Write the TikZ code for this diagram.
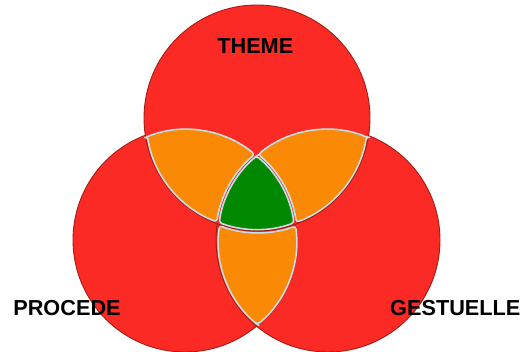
\documentclass[tikz,border=0pt]{standalone}
\usepackage{fontspec}
\setmainfont{Liberation Sans}
\definecolor{vred}{RGB}{252,42,36}
\definecolor{vredline}{RGB}{165,28,20}
\definecolor{vorange}{RGB}{250,137,5}
\definecolor{vgreen}{RGB}{0,137,0}
\definecolor{vborder}{RGB}{200,222,228}
\begin{document}
\begin{tikzpicture}[x=1pt,y=1pt,
  circ/.style={circle,fill=vred,draw=vredline,line width=0.9pt,inner sep=0pt,outer sep=0pt,minimum size=#1},
  piece/.style={draw=vborder,line width=1.6pt,line join=round,rounded corners=3pt},
  pshadow/.style={fill=black,opacity=0.14,rounded corners=3pt},
  lbl/.style={font=\fontsize{21.7}{26}\selectfont\bfseries,inner sep=0pt},
  pTL/.style={insert path={(145.3,216.7) arc[start angle=110.77,end angle=50.32,radius=112]
     arc[start angle=129.68,end angle=171.63,radius=112]
     arc[start angle=249.36,end angle=188.80,radius=113] -- cycle}},
  pTR/.style={insert path={(368.6,216.4) arc[start angle=68.75,end angle=129.68,radius=112]
     arc[start angle=50.32,end angle=8.16,radius=112]
     arc[start angle=290.14,end angle=351.04,radius=113] -- cycle}},
  pB/.style={insert path={(256.5,25.8) arc[start angle=229.68,end angle=171.63,radius=112]
     arc[start angle=249.36,end angle=290.14,radius=113]
     arc[start angle=8.16,end angle=-50.32,radius=112] -- cycle}},
  pG/.style={insert path={(256.5,198.2) arc[start angle=129.68,end angle=171.63,radius=112]
     arc[start angle=249.36,end angle=290.14,radius=113]
     arc[start angle=8.16,end angle=50.32,radius=112] -- cycle}}
]
\useasboundingbox (0,0) rectangle (526,352);
\node[circ=224pt] (circL) at (185,112) {};
\node[circ=224pt] (circR) at (328,112) {};
\node[circ=226pt] (circT) at (257,234) {};
% top-left piece
\begin{scope}[shift={(206,181)},scale=0.965,shift={(-206,-181)}]
  \path[pshadow,shift={(0.8,-1.6)},pTL];
  \path[piece,fill=vorange,pTL];
\end{scope}
% top-right piece
\begin{scope}[shift={(307,181)},scale=0.965,shift={(-307,-181)}]
  \path[pshadow,shift={(0.8,-1.6)},pTR];
  \path[piece,fill=vorange,pTR];
\end{scope}
% bottom piece
\begin{scope}[shift={(256.5,94)},scale=0.965,shift={(-256.5,-94)}]
  \path[pshadow,shift={(0.8,-1.6)},pB];
  \path[piece,fill=vorange,pB];
\end{scope}
% centre piece
\begin{scope}[shift={(256.5,151.5)},scale=0.95,shift={(-256.5,-151.5)}]
  \path[pshadow,shift={(0.8,-1.6)},pG];
  \path[piece,fill=vgreen,pG];
\end{scope}
\node[lbl] (theme) at (255.3,306) {THEME};
\node[lbl] (procede) at (67,44) {PROCEDE};
\node[lbl] (gestuelle) at (455.3,44) {GESTUELLE};
\end{tikzpicture}
\end{document}
